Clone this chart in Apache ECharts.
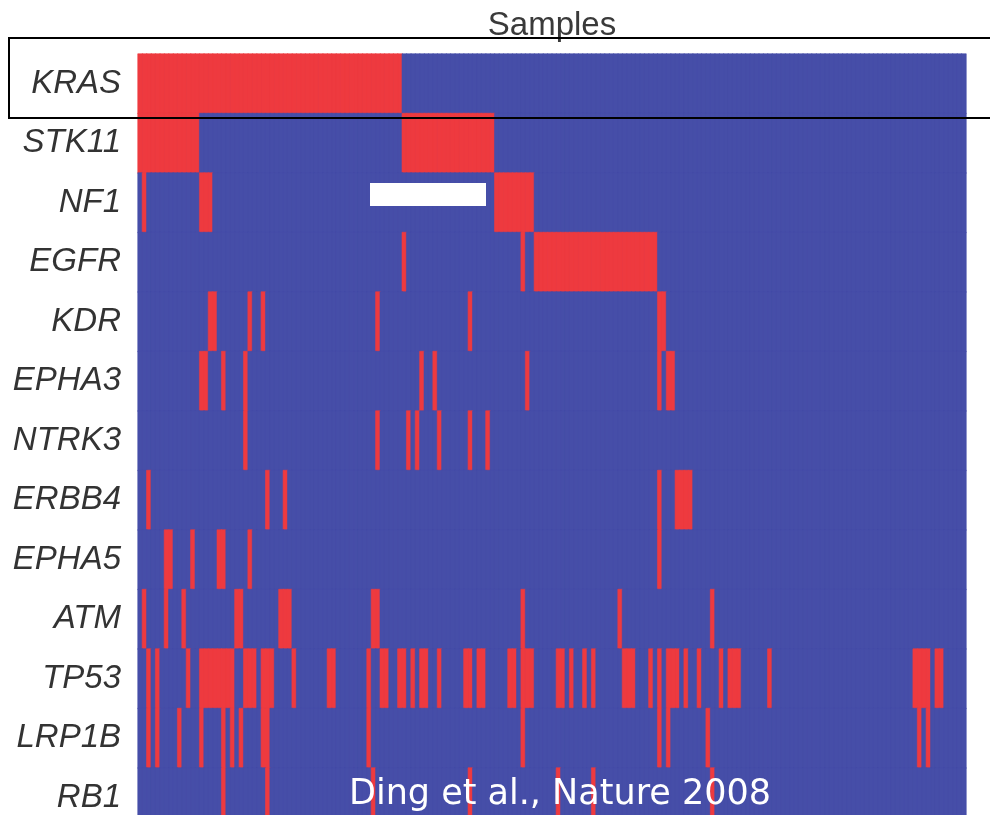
<!DOCTYPE html>
<html>
<head>
<meta charset="utf-8">
<script src="https://cdn.jsdelivr.net/npm/echarts@6/dist/echarts.min.js"></script>
<style>
  html, body { margin: 0; padding: 0; background: #ffffff; }
  #chart { width: 990px; height: 815px; }
</style>
</head>
<body>
<div id="chart"></div>
<script>
// ---- Data ----
const genes = ['KRAS','STK11','NF1','EGFR','KDR','EPHA3','NTRK3','ERBB4','EPHA5','ATM','TP53','LRP1B','RB1'];
const sampleCount = 188;
const sampleIds = Array.from({length: sampleCount}, (_, i) => 'S' + (i + 1));

// mutated samples per gene, as [firstSample, lastSample] spans (0-based sample index)
const KRAS  = [[0,59]];
const STK11 = [[0,13],[60,80]];
const NF1   = [[1,1],[14,16],[81,89]];
const EGFR  = [[60,60],[87,87],[90,117]];
const KDR   = [[16,17],[25,25],[28,28],[54,54],[75,75],[118,119]];
const EPHA3 = [[14,15],[19,19],[24,24],[64,64],[67,67],[88,88],[118,118],[120,121]];
const NTRK3 = [[24,24],[54,54],[61,61],[63,63],[68,68],[75,75],[79,79]];
const ERBB4 = [[2,2],[29,29],[33,33],[118,118],[122,125]];
const EPHA5 = [[6,7],[12,12],[18,19],[25,25],[118,118]];
const ATM   = [[1,1],[6,6],[10,10],[22,23],[32,34],[53,54],[87,87],[109,109],[130,130]];
const TP53  = [[2,2],[4,4],[11,11],[14,21],[24,26],[28,30],[35,35],[43,44],[52,52],[55,56],[59,60],[62,62],[64,65],[68,68],[74,75],[77,78],[84,85],[87,89],[95,96],[98,98],[101,101],[103,103],[110,112],[116,116],[118,118],[120,122],[124,124],[127,127],[132,132],[134,136],[143,143],[176,179],[181,182]];
const LRP1B = [[2,2],[4,4],[9,9],[14,14],[19,19],[21,21],[23,23],[28,28],[29,29],[52,52],[87,87],[118,118],[120,120],[129,129],[177,177],[179,179]];
const RB1   = [[19,19],[29,29],[53,53],[75,75],[95,95],[103,103],[130,130]];

const mutationSpans = [KRAS, STK11, NF1, EGFR, KDR, EPHA3, NTRK3, ERBB4, EPHA5, ATM, TP53, LRP1B, RB1];

// ---- Styles ----
const RED = '#ee3a3f';
const BLUE = '#464ea8';

// Build heatmap cells
const cells = [];
mutationSpans.forEach((spans, gi) => {
  const mutated = new Set();
  spans.forEach(([a, b]) => { for (let s = a; s <= b; s++) mutated.add(s); });
  for (let s = 0; s < sampleCount; s++) {
    const m = mutated.has(s) ? 1 : 0;
    const c = m ? RED : BLUE;
    cells.push({ value: [s, gi, m], itemStyle: { color: c, borderColor: c, borderWidth: 0.6 } });
  }
});

const chart = echarts.init(document.getElementById('chart'), null, { renderer: 'canvas' });
chart.setOption({
  animation: false,
  backgroundColor: '#ffffff',
  grid: {
    left: 138, top: 54, width: 828, height: 773.5,
    outerBoundsMode: 'none',
    containLabel: false,
    show: true, backgroundColor: BLUE, borderWidth: 0
  },
  xAxis: {
    type: 'category',
    data: sampleIds,
    position: 'top',
    name: 'Samples',
    nameLocation: 'middle',
    nameGap: 12,
    nameTextStyle: { fontFamily: 'Liberation Sans, Arial, sans-serif', fontSize: 33, color: '#3a3a3a' },
    axisLine: { show: false },
    axisTick: { show: false },
    axisLabel: { show: false },
    splitLine: { show: false }
  },
  yAxis: {
    type: 'category',
    data: genes,
    inverse: true,
    axisLine: { show: false },
    axisTick: { show: false },
    splitLine: { show: false },
    axisLabel: {
      margin: 17,
      fontFamily: 'Liberation Sans, Arial, sans-serif',
      fontStyle: 'italic',
      fontSize: 33,
      color: '#333333'
    }
  },
  series: [{
    type: 'heatmap',
    data: cells,
    itemStyle: { borderWidth: 0.6 },
    emphasis: { disabled: true }
  }],
  graphic: [
    {
      type: 'polyline',
      shape: { points: [[990, 38], [9, 38], [9, 118], [990, 118]] },
      style: { stroke: '#000000', lineWidth: 2, fill: null },
      z: 100
    },
    {
      type: 'rect',
      shape: { x: 370, y: 183, width: 116, height: 23 },
      style: { fill: '#ffffff' },
      z: 100
    },
    {
      type: 'text',
      x: 560, y: 795,
      style: {
        text: 'Ding et al., Nature 2008',
        fill: '#ffffff',
        font: '35px "Comic Sans MS", "DejaVu Sans", sans-serif',
        textAlign: 'center',
        textVerticalAlign: 'middle'
      },
      z: 100
    }
  ]
});
</script>
</body>
</html>
